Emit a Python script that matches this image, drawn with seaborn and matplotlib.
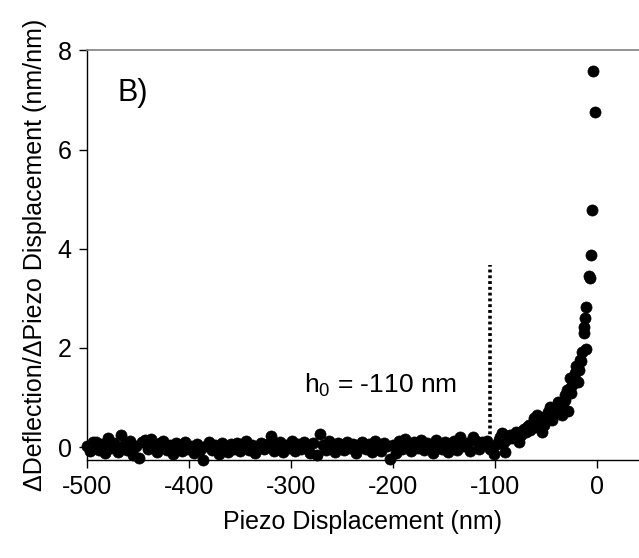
import matplotlib
matplotlib.use("Agg")
import matplotlib.pyplot as plt
import seaborn as sns
import pandas as pd

# ---- data ----
base_x = [-500, -497, -494, -491, -488, -485, -482, -479, -476, -473,
          -470, -467, -464, -461, -458, -455, -452, -449, -446, -443,
          -440, -437, -434, -431, -428, -425, -422, -419, -416, -413,
          -410, -407, -404, -401, -398, -395, -392, -389, -386, -383,
          -380, -377, -374, -371, -368, -365, -362, -359, -356, -353,
          -350, -347, -344, -341, -338, -335, -332, -329, -326, -323,
          -320, -317, -314, -311, -308, -305, -302, -299, -296, -293,
          -290, -287, -284, -281, -278, -275, -272, -269, -266, -263,
          -260, -257, -254, -251, -248, -245, -242, -239, -236, -233,
          -230, -227, -224, -221, -218, -215, -212, -209, -206, -203,
          -200, -197, -194, -191, -188, -185, -182, -179, -176, -173,
          -170, -167, -164, -161, -158, -155, -152, -149, -146, -143,
          -140, -137, -134, -131, -128, -125, -122, -119, -116, -113]
base_y = [0.02, -0.08, 0.10, 0.11, -0.05, 0.06, -0.12, 0.19, -0.02, 0.08,
          -0.10, 0.25, 0.05, -0.06, 0.12, -0.15, 0.03, -0.22, 0.10, 0.14,
          -0.04, 0.16, 0.02, -0.10, 0.09, 0.13, -0.06, 0.05, -0.13, 0.08,
          0.04, -0.08, 0.11, -0.03, 0.02, -0.12, 0.07, -0.05, -0.26, 0.03,
          0.10, -0.06, 0.04, -0.14, 0.08, 0.00, -0.09, 0.06, -0.04, 0.09,
          -0.08, 0.03, 0.12, -0.05, 0.05, -0.12, 0.02, 0.09, -0.03, 0.06,
          0.22, -0.07, 0.04, 0.11, -0.10, 0.05, -0.02, 0.13, -0.08, 0.07,
          -0.04, 0.10, 0.03, -0.11, 0.08, -0.16, 0.27, 0.05, -0.06, 0.12,
          0.02, -0.09, 0.09, 0.04, -0.05, 0.11, -0.02, 0.07, -0.12, 0.05,
          0.10, -0.04, 0.06, -0.10, 0.12, 0.01, -0.07, 0.08, 0.03, -0.23,
          0.05, -0.11, 0.12, -0.03, 0.17, 0.04, -0.08, 0.10, -0.02, 0.14,
          -0.06, 0.09, 0.03, -0.12, 0.15, 0.06, -0.04, 0.11, -0.09, 0.08,
          0.13, -0.05, 0.21, 0.02, 0.09, -0.07, 0.21, 0.12, -0.03, 0.10]

rise_x = [-111, -108, -105, -101.5, -98, -96, -95, -93, -91, -90,
          -88, -86, -85, -83, -82, -80, -78.6, -77, -75, -74,
          -72, -70, -69, -67, -66, -64, -62.3, -61, -60, -59,
          -57, -56, -54, -52.5, -51, -50, -48, -46, -44.3, -43,
          -42, -40, -38, -37, -36, -34.5, -33, -32, -31.3, -30,
          -29, -28, -27, -26, -25, -23, -22, -20.8, -19, -18,
          -17.3, -16, -15, -13.2, -13, -12.4, -10.8, -10.5, -8.1, -7.5,
          -5.9, -5.2, -4.2, -1.7]
rise_y = [0.04, 0.12, -0.03, -0.13, 0.07, 0.15, 0.20, 0.28, 0.10, -0.09,
          0.17, 0.22, 0.25, 0.18, 0.21, 0.30, 0.28, 0.11, 0.24, 0.33,
          0.37, 0.30, 0.40, 0.45, 0.35, 0.44, 0.58, 0.40, 0.50, 0.64,
          0.48, 0.55, 0.30, 0.44, 0.58, 0.62, 0.70, 0.81, 0.54, 0.66,
          0.70, 0.74, 0.91, 0.80, 0.85, 0.64, 0.90, 0.95, 1.05, 1.15,
          0.72, 1.18, 1.40, 1.10, 1.25, 1.38, 1.50, 1.63, 1.31, 1.55,
          1.75, 1.73, 1.92, 2.42, 2.30, 2.60, 1.98, 2.83, 3.46, 3.41,
          3.88, 4.78, 7.58, 6.75]

x_ticks = [-500, -400, -300, -200, -100, 0]
y_ticks = [0, 2, 4, 6, 8]
h0_x = -105
h0_y = [0.14, 3.67]

df = pd.DataFrame({"x": base_x + rise_x, "y": base_y + rise_y})

sns.set_style("ticks")
plt.rcParams["font.family"] = ["Liberation Sans", "DejaVu Sans"]
plt.rcParams["mathtext.default"] = "regular"
plt.rcParams["text.color"] = "black"
plt.rcParams["axes.labelcolor"] = "black"
plt.rcParams["xtick.color"] = "black"
plt.rcParams["ytick.color"] = "black"

fig = plt.figure(figsize=(6.39, 5.58), dpi=100)
ax = fig.add_axes([0.136, 0.1756, 0.864, 0.734])

sns.scatterplot(data=df, x="x", y="y", ax=ax, color="black", s=64,
                edgecolor="black", linewidth=0.5, clip_on=False, zorder=3)

ax.plot([h0_x, h0_x], h0_y, color="black", linestyle=(0, (0.8, 0.8)),
        linewidth=2.6, solid_capstyle="butt", dash_capstyle="butt")

ax.set_xlim(-500, 41)
ax.set_ylim(-0.26, 8)
ax.set_xticks(x_ticks)
ax.set_yticks(y_ticks)
ax.set_xticklabels([str(v) for v in x_ticks])
ax.set_yticklabels([str(v) for v in y_ticks])
ax.tick_params(axis="both", direction="out", length=6, width=1,
               labelsize=18, colors="black", labelcolor="black", pad=5)

ax.spines["right"].set_visible(False)
ax.spines["top"].set_color("#808080")
ax.spines["top"].set_linewidth(1.2)
for s in ["left", "bottom"]:
    ax.spines[s].set_color("black")
    ax.spines[s].set_linewidth(1.0)

ax.set_xlabel("Piezo Displacement (nm)", fontsize=18, labelpad=8, color="black")
ax.set_ylabel("\u0394Deflection/\u0394Piezo Displacement (nm/nm)",
              fontsize=18, labelpad=8, color="black")

ax.text(-470, 7.15, "B)", fontsize=22, va="center", ha="left", color="black")
ax.text(-287, 1.25, "h$_0$ = -110 nm", fontsize=19, va="center", ha="left",
        color="black")

fig.savefig("out.png", dpi=100)
